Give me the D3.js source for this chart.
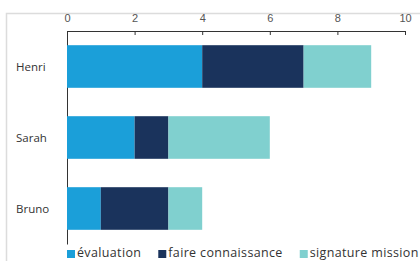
<!DOCTYPE html>
<html>
<head>
<meta charset="utf-8">
<style>
    body { margin: 0; background: #fff; }
    svg { display: block; font-family: "Open Sans", sans-serif; }
    .x .domain, .y .domain { stroke: #333; }
    .x .tick line { stroke: #333; }
    .x .tick text { font-size: 11px; fill: #555; }
    .y .tick line { display: none; }
</style>
</head>
<body>
<svg width="420" height="261"></svg>
<script src="https://d3js.org/d3.v7.min.js"></script>
<script>
    const people = ["Henri", "Sarah", "Bruno"]
    const series = ["évaluation", "faire connaissance", "signature mission"]
    const evaluation = [4, 2, 1]
    const faireConnaissance = [3, 1, 2]
    const signatureMission = [2, 3, 1]
    const xTicks = [0, 2, 4, 6, 8, 10]
    const colors = ["#1b9fd9", "#1a335c", "#80d0cf"]

    let svg = d3.select("svg")

    // frame
    svg.append("path")
        .attr("d", "M420,13.5 H6.5 V261")
        .style("fill", "none")
        .style("stroke", "#dcdcdc")
        .style("stroke-width", 1.5)

    let rows = people.map((p, i) => ({
        name: p,
        "évaluation": evaluation[i],
        "faire connaissance": faireConnaissance[i],
        "signature mission": signatureMission[i]
    }))
    let stacked = d3.stack().keys(series)(rows)

    let x = d3.scaleLinear().domain([0, 10]).range([67, 405])
    let y = d3.scaleBand().domain(people).range([31, 244])
        .paddingInner(0.4).paddingOuter(0.2)

    svg.append("g").attr("class", "x")
        .attr("transform", "translate(0,31)")
        .call(d3.axisTop(x).tickValues(xTicks).tickSize(-4).tickSizeOuter(-4).tickPadding(9))

    svg.append("g").attr("class", "y")
        .attr("transform", "translate(67,0)")
        .call(d3.axisLeft(y).tickSize(0).tickSizeOuter(0).tickFormat(""))

    svg.append("g")
        .selectAll("g")
        .data(stacked)
        .join("g")
        .style("fill", (d, i) => colors[i])
        .selectAll("rect")
        .data(d => d)
        .join("rect")
        .attr("x", d => x(d[0]))
        .attr("width", d => x(d[1]) - x(d[0]))
        .attr("y", d => y(d.data.name))
        .attr("height", y.bandwidth())

    // category labels, left aligned
    svg.append("g")
        .selectAll("text")
        .data(people)
        .join("text")
        .attr("x", 16)
        .attr("y", d => y(d) + y.bandwidth() / 2)
        .attr("dy", "0.35em")
        .style("font-size", "11.5px")
        .style("fill", "#333")
        .text(d => d)

    // legend
    let legend = svg.append("g")
    let lx = 67
    series.forEach((s, i) => {
        legend.append("rect")
            .attr("x", lx).attr("y", 250)
            .attr("width", 8).attr("height", 8)
            .style("fill", colors[i])
        let t = legend.append("text")
            .attr("x", lx + 10).attr("y", 257)
            .style("font-size", "12.5px")
            .style("letter-spacing", "0.35px")
            .style("fill", "#333")
            .text(s)
        lx += 10 + t.node().getComputedTextLength() + 17
    })
</script>
</body>
</html>
